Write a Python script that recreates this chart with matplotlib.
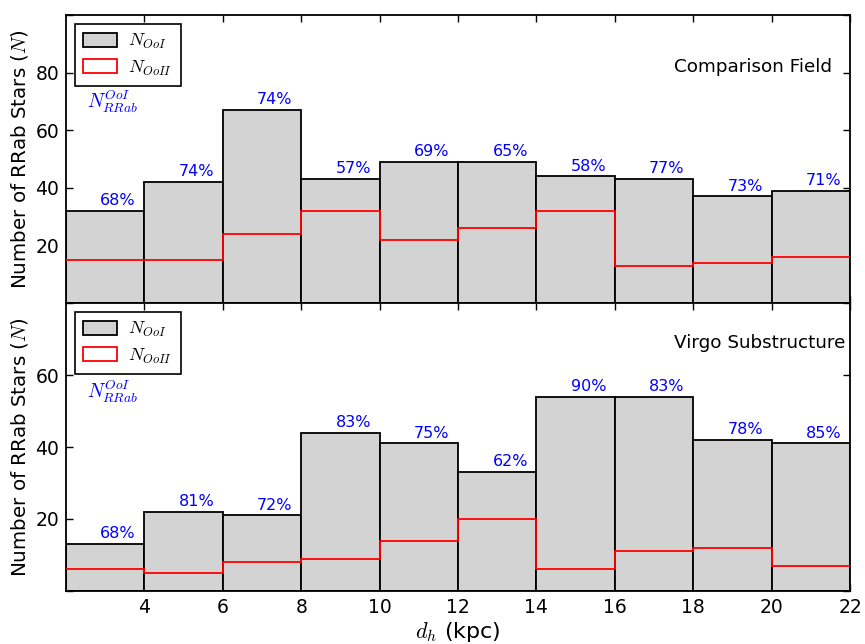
import numpy as np
import matplotlib
matplotlib.use("Agg")
import matplotlib.pyplot as plt
from matplotlib.patches import Patch

plt.rcParams['font.family'] = ['DejaVu Sans']
plt.rcParams['mathtext.fontset'] = 'cm'

# distance bins (kpc)
bin_edges = [2, 4, 6, 8, 10, 12, 14, 16, 18, 20, 22]

# Comparison field counts
field_ooi = [32, 42, 67, 43, 49, 49, 44, 43, 37, 39]
field_ooii = [15, 15, 24, 32, 22, 26, 32, 13, 14, 16]

# Virgo substructure counts
virgo_ooi = [13, 22, 21, 44, 41, 33, 54, 54, 42, 41]
virgo_ooii = [6, 5, 8, 9, 14, 20, 6, 11, 12, 7]

panel_titles = ["Comparison Field", "Virgo Substructure"]
x_ticks = [4, 6, 8, 10, 12, 14, 16, 18, 20, 22]

fig = plt.figure(figsize=(8.65, 6.44), dpi=100)
gs = fig.add_gridspec(2, 1, left=0.0763, right=0.9827, top=0.9767, bottom=0.0823,
                      hspace=0.0)
ax_top = fig.add_subplot(gs[0])
ax_bot = fig.add_subplot(gs[1], sharex=ax_top)

panels = [
    (ax_top, field_ooi, field_ooii, panel_titles[0], 100, (0.776, 0.82), 0.70),
    (ax_bot, virgo_ooi, virgo_ooii, panel_titles[1], 80, (0.776, 0.86), 0.69),
]

edges = np.array(bin_edges, dtype=float)
lefts = edges[:-1]
widths = np.diff(edges)
centers = lefts + widths / 2

for ax, ooi, ooii, title, ymax, title_pos, tag_y in panels:
    ooi = np.array(ooi)
    ooii = np.array(ooii)
    ax.bar(lefts, ooi, width=widths, align='edge', color='lightgray',
           edgecolor='black', linewidth=1.3, zorder=2)
    ax.stairs(ooii, edges, baseline=None, color='red', linewidth=1.3, zorder=3)

    frac = 100.0 * ooi / (ooi + ooii)
    for xc, h, f in zip(centers, ooi, frac):
        ax.annotate(f"{f:.0f}%", xy=(xc + 0.33, h), xytext=(0, 2),
                    textcoords='offset points', ha='center', va='bottom',
                    color='blue', fontsize=11.5)

    ax.set_xlim(2, 22)
    ax.set_ylim(0, ymax)
    ax.set_yticks(np.arange(0, ymax + 1, 20))
    labels = [str(v) if 0 < v < ymax else "" for v in range(0, ymax + 1, 20)]
    ax.set_yticklabels(labels)
    ax.tick_params(direction='in', top=True, right=True, length=5, width=1,
                   labelsize=13.5, pad=5)
    ax.set_ylabel(r"Number of RRab Stars ($N$)", fontsize=14.3, labelpad=4)

    ax.text(title_pos[0], title_pos[1], title, transform=ax.transAxes,
            ha='left', va='center', fontsize=13.2)
    ax.text(0.027, tag_y, r"$N_{RRab}^{OoI}$", transform=ax.transAxes,
            ha='left', va='center', color='blue', fontsize=14)

    handles = [Patch(facecolor='lightgray', edgecolor='black', linewidth=1.3),
               Patch(facecolor='white', edgecolor='red', linewidth=1.3)]
    leg = ax.legend(handles, [r"$N_{OoI}$", r"$N_{OoII}$"], loc='upper left',
                    fontsize=13, fancybox=False, framealpha=1,
                    edgecolor='black', borderaxespad=0.5, handlelength=1.9,
                    handleheight=0.8, borderpad=0.45, labelspacing=0.4,
                    handletextpad=0.6)
    leg.get_frame().set_linewidth(1.2)

    for sp in ax.spines.values():
        sp.set_linewidth(1.3)

ax_bot.set_xticks(x_ticks)
plt.setp(ax_top.get_xticklabels(), visible=False)
ax_bot.set_xlabel(r"$d_h$ (kpc)", fontsize=16, labelpad=2)

fig.savefig("out.png", dpi=100)
